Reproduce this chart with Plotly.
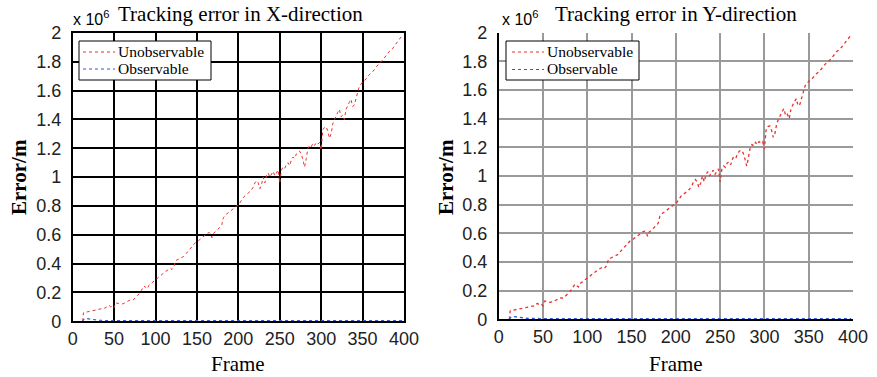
import plotly.graph_objects as go

# ---------------- data (error in units of 10^6 m) ----------------
frames_unobs = [12, 13, 15, 20, 25, 30, 35, 38, 40, 42, 44, 46, 48, 50, 52, 55, 58, 61, 64, 67, 70, 73, 75, 77,
                80, 83, 86, 88, 90, 92, 95, 98, 100, 104, 108, 112, 116, 118, 120, 122, 124, 127, 130, 134,
                137, 140, 144, 148, 152, 156, 160, 163, 165, 167, 168, 170, 172, 175, 178, 180, 182, 185,
                188, 191, 195, 198, 200, 203, 206, 209, 212, 215, 218, 220, 222, 224, 226, 228, 230, 232,
                234, 236, 238, 240, 242, 244, 246, 248, 250, 252, 254, 256, 258, 260, 262, 264, 266, 268,
                270, 272, 274, 276, 278, 280, 282, 284, 286, 288, 290, 292, 294, 296, 298, 300, 302, 304,
                306, 308, 310, 312, 314, 316, 318, 320, 322, 324, 326, 328, 330, 332, 334, 336, 338, 340,
                342, 344, 346, 348, 350, 354, 358, 362, 366, 370, 374, 378, 382, 386, 390, 394, 398]
err_x_unobs = [0.0, 0.06, 0.062, 0.068, 0.074, 0.08, 0.086, 0.09, 0.094, 0.108, 0.11, 0.1, 0.106, 0.094, 0.128,
               0.124, 0.118, 0.122, 0.132, 0.14, 0.15, 0.148, 0.16, 0.17, 0.19, 0.215, 0.245, 0.235, 0.225,
               0.25, 0.265, 0.28, 0.29, 0.305, 0.325, 0.345, 0.36, 0.368, 0.36, 0.375, 0.42, 0.43, 0.435,
               0.45, 0.47, 0.49, 0.52, 0.545, 0.56, 0.578, 0.6, 0.612, 0.615, 0.6, 0.58, 0.61, 0.62, 0.635,
               0.655, 0.67, 0.72, 0.74, 0.755, 0.77, 0.785, 0.8, 0.805, 0.83, 0.86, 0.875, 0.89, 0.905,
               0.93, 0.96, 0.975, 0.96, 0.92, 0.95, 1.0, 0.96, 1.01, 1.03, 1.0, 1.02, 1.04, 1.01, 1.03,
               1.05, 0.96, 1.05, 1.07, 1.06, 1.09, 1.1, 1.08, 1.12, 1.14, 1.13, 1.16, 1.175, 1.18, 1.16,
               1.12, 1.07, 1.13, 1.2, 1.22, 1.21, 1.235, 1.22, 1.24, 1.23, 1.24, 1.19, 1.33, 1.345, 1.35,
               1.32, 1.27, 1.3, 1.37, 1.4, 1.42, 1.45, 1.47, 1.42, 1.43, 1.4, 1.47, 1.5, 1.52, 1.54, 1.49,
               1.5, 1.54, 1.58, 1.63, 1.645, 1.66, 1.68, 1.71, 1.73, 1.76, 1.79, 1.81, 1.84, 1.87, 1.89,
               1.92, 1.95, 1.985]
err_y_unobs = list(err_x_unobs)

frames_obs = [12, 14, 16, 18, 20, 23, 26, 30, 35, 40, 60, 100, 200, 300, 398]
err_x_obs = [0.0, 0.018, 0.02, 0.018, 0.015, 0.012, 0.01, 0.008, 0.006, 0.005, 0.004, 0.004, 0.004, 0.004, 0.004]
err_y_obs = list(err_x_obs)

series_names = ["Unobservable", "Observable"]
x_ticks = [0, 50, 100, 150, 200, 250, 300, 350, 400]
y_ticks = [0, 0.2, 0.4, 0.6, 0.8, 1, 1.2, 1.4, 1.6, 1.8, 2]
y_ticktext = ["0", "0.2", "0.4", "0.6", "0.8", "1", "1.2", "1.4", "1.6", "1.8", "2"]

RED = "#e8322e"
BLUE = "#3858d0"
SERIF = "Liberation Serif, Times New Roman, serif"
SANS = "Liberation Sans, Arial, sans-serif"

fig = go.Figure()

# left panel
fig.add_trace(go.Scatter(x=frames_unobs, y=err_x_unobs, mode="lines", name=series_names[0],
                         line=dict(color=RED, width=1, dash="dot"), xaxis="x", yaxis="y"))
fig.add_trace(go.Scatter(x=frames_obs, y=err_x_obs, mode="lines", name=series_names[1],
                         line=dict(color=BLUE, width=1.2, dash="dot"), xaxis="x", yaxis="y"))
# right panel
fig.add_trace(go.Scatter(x=frames_unobs, y=err_y_unobs, mode="lines", name=series_names[0],
                         line=dict(color=RED, width=1.3, dash="dot"), xaxis="x2", yaxis="y2"))
fig.add_trace(go.Scatter(x=frames_obs, y=err_y_obs, mode="lines", name=series_names[1],
                         line=dict(color=BLUE, width=1.4, dash="dot"), xaxis="x2", yaxis="y2"))

W, H = 877, 377
def dx(a, b):
    return [a / W, b / W]
def dy(top, bottom):
    return [(H - bottom) / H, (H - top) / H]

tickfont = dict(family=SANS, size=18, color="#222")
common_x = dict(range=[0, 400], tickvals=x_ticks, ticks="", showline=True, linecolor="black", linewidth=1.5,
                tickfont=tickfont, zeroline=False, ticklabelstandoff=0, automargin=False)
common_y = dict(range=[0, 2], tickvals=y_ticks, ticktext=y_ticktext, ticks="", showline=True, linecolor="black",
                linewidth=1.5, tickfont=tickfont, zeroline=False, ticklabelstandoff=6, automargin=False)

fig.update_layout(
    width=W, height=H, margin=dict(l=0, r=0, t=0, b=0, autoexpand=False),
    paper_bgcolor="white", plot_bgcolor="white", showlegend=False,
    xaxis=dict(domain=dx(72.7, 404), anchor="y", gridcolor="black", gridwidth=2, mirror=True, **common_x),
    yaxis=dict(domain=dy(33, 321.3), anchor="x", gridcolor="black", gridwidth=2, mirror=True, **common_y),
    xaxis2=dict(domain=dx(498.7, 853), anchor="y2", gridcolor="#9a9a9a", gridwidth=1.5, **common_x),
    yaxis2=dict(domain=dy(32.7, 319.3), anchor="x2", gridcolor="#9a9a9a", gridwidth=1.5, **common_y),
)

ann = []
shapes = []
def text(x, y, s, size, family, bold=False, angle=0, xanchor="center"):
    ann.append(dict(x=x / W, y=(H - y) / H, xref="paper", yref="paper", text=("<b>%s</b>" % s) if bold else s,
                    showarrow=False, font=dict(family=family, size=size, color="black"), textangle=angle,
                    xanchor=xanchor, yanchor="middle"))

# legend boxes (drawn as styled overlay)
def legend_box(x0, x1, y0, y1, line_x0, line_x1, rows):
    shapes.append(dict(type="rect", xref="paper", yref="paper", x0=x0 / W, x1=x1 / W,
                       y0=(H - y1) / H, y1=(H - y0) / H, line=dict(color="black", width=1),
                       fillcolor="white", layer="above"))
    for (ry, name, color) in rows:
        shapes.append(dict(type="line", xref="paper", yref="paper", x0=line_x0 / W, x1=line_x1 / W,
                           y0=(H - ry) / H, y1=(H - ry) / H, line=dict(color=color, width=1.2, dash="dot"),
                           layer="above"))
        text(line_x1 + 1, ry - 1, name, 15.5, SERIF, xanchor="left")

legend_box(79, 211, 41, 80, 83, 115, [(52, series_names[0], RED), (69, series_names[1], BLUE)])
legend_box(506, 639, 41, 80, 512, 544, [(52, series_names[0], RED), (69.5, series_names[1], BLUE)])

text(240, 14, "Tracking error in X-direction", 21, SERIF)
text(676, 14, "Tracking error in Y-direction", 21, SERIF)
text(71, 18, "x 10<sup>6</sup>", 16, SANS, xanchor="left")
text(500, 18, "x 10<sup>6</sup>", 16, SANS, xanchor="left")
text(19, 177, "Error/m", 21, SERIF, bold=True, angle=-90)
text(446, 177, "Error/m", 21, SERIF, bold=True, angle=-90)
text(238, 364, "Frame", 21, SERIF)
text(676, 364, "Frame", 21, SERIF)
fig.update_layout(annotations=ann, shapes=shapes)

fig.write_html("out.html")
